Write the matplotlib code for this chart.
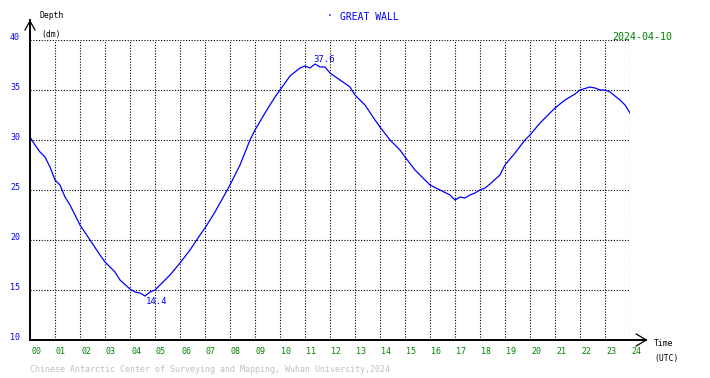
import matplotlib
matplotlib.use("Agg")
import matplotlib.pyplot as plt

W, H = 710, 378

# tide readings (UTC hour, depth in dm)
hours = [0.0, 0.2, 0.4, 0.6, 0.8, 1.0, 1.2, 1.4, 1.6, 2.0, 2.4, 2.8, 3.0, 3.4, 3.6,
         4.0, 4.2, 4.4, 4.6, 4.8, 5.0, 5.2, 5.4, 5.6, 6.0, 6.4, 6.8, 7.0, 7.4, 8.0,
         8.4, 8.8, 9.0, 9.4, 9.8, 10.0, 10.4, 10.8, 11.0, 11.2, 11.4, 11.6, 11.8,
         12.0, 12.4, 12.8, 13.0, 13.4, 13.8, 14.0, 14.4, 14.8, 15.0, 15.4, 15.8,
         16.0, 16.4, 16.8, 17.0, 17.2, 17.4, 17.6, 17.8, 18.0, 18.2, 18.4, 18.8,
         19.0, 19.4, 19.8, 20.0, 20.4, 20.8, 21.0, 21.4, 21.8, 22.0, 22.4, 22.6,
         22.8, 23.0, 23.2, 23.4, 23.6, 23.8, 24.0]
depth = [30.3, 29.5, 28.8, 28.3, 27.3, 26.0, 25.5, 24.3, 23.5, 21.5, 20.0, 18.5, 17.8,
         16.8, 16.0, 15.1, 14.8, 14.7, 14.4, 14.8, 15.0, 15.5, 16.0, 16.5, 17.7,
         19.0, 20.5, 21.2, 22.8, 25.5, 27.5, 30.0, 31.0, 32.7, 34.3, 35.0, 36.4,
         37.2, 37.4, 37.2, 37.6, 37.3, 37.3, 36.7, 36.0, 35.3, 34.5, 33.5, 32.0,
         31.3, 30.0, 29.0, 28.3, 27.0, 26.0, 25.5, 25.0, 24.5, 24.0, 24.3, 24.2,
         24.5, 24.7, 25.0, 25.2, 25.6, 26.5, 27.5, 28.7, 30.0, 30.5, 31.7, 32.7,
         33.2, 34.0, 34.6, 35.0, 35.3, 35.2, 35.0, 35.0, 34.8, 34.4, 34.0, 33.5, 32.7]
x_labels = ["%02d" % h for h in range(25)]
y_ticks = [10, 15, 20, 25, 30, 35, 40]
peak = (11.4, 37.6)
trough = (4.6, 14.4)

MONO = "DejaVu Sans Mono"

def fx(px):
    return px / W

def fy(py):
    return 1 - py / H

fig = plt.figure(figsize=(W / 100, H / 100), dpi=100)
ax = fig.add_axes([fx(30), fy(340), 600 / W, 300 / H])
ax.set_xlim(0, 24)
ax.set_ylim(10, 40)
ax.axis("off")

# dotted grid
for h in range(1, 25):
    ax.plot([h, h], [10, 40], color="black", lw=0.8, ls=(0, (1, 1.5)))
for d in y_ticks[1:]:
    ax.plot([0, 24], [d, d], color="black", lw=0.8, ls=(0, (1, 1.5)))

# tide curve
ax.plot(hours, depth, color="#0000ff", lw=0.9)

# axes with open arrowheads
ax.plot([0, 0], [10, 42], color="black", lw=1.4, clip_on=False)
ax.plot([-0.2, 0, 0.2], [41.0, 41.9, 41.0], color="black", lw=0.9, clip_on=False)
ax.plot([0, 24.65], [10, 10], color="black", lw=1.4, clip_on=False)
ax.plot([24.25, 24.65, 24.25], [10.6, 10, 9.4], color="black", lw=0.9, clip_on=False)

# tick labels
for i, lab in enumerate(x_labels):
    ax.text(i + 0.04, 8.9, lab, color="green", fontsize=6, family=MONO,
            ha="left", va="center")
for d in y_ticks:
    ax.text(-0.4, d + 0.2, str(d), color="blue", fontsize=6, family=MONO,
            ha="right", va="center")

# extreme annotations (label sits a little right of the extreme)
ax.text(peak[0] + 0.36, peak[1] + 0.5, "%.1f" % peak[1], color="blue",
        fontsize=6.5, family=MONO, ha="center", va="center")
ax.text(trough[0] + 0.48, trough[1] - 0.5, "%.1f" % trough[1], color="blue",
        fontsize=6.5, family=MONO, ha="center", va="center")

# header / labels
fig.text(fx(40), fy(16), "Depth", fontsize=5.8, family=MONO, va="center")
fig.text(fx(41), fy(34), "(dm)", fontsize=5.8, family=MONO, va="center")
fig.text(fx(654), fy(344), "Time", fontsize=5.8, family=MONO, va="center")
fig.text(fx(654), fy(359), "(UTC)", fontsize=5.8, family=MONO, va="center")
fig.text(fx(330), fy(16), "·", color="blue", fontsize=7, family=MONO,
         ha="center", va="center")
fig.text(fx(340), fy(17), "GREAT WALL", color="blue", fontsize=7, family=MONO,
         va="center")
fig.text(fx(612), fy(37), "2024-04-10", color="green", fontsize=7.2, family=MONO,
         va="center")
fig.text(fx(30), fy(370),
         "Chinese Antarctic Center of Surveying and Mapping, Wuhan University,2024",
         color="#c0c0c0", fontsize=6, family=MONO, va="center")

fig.savefig("out.png", dpi=100, facecolor="white")
